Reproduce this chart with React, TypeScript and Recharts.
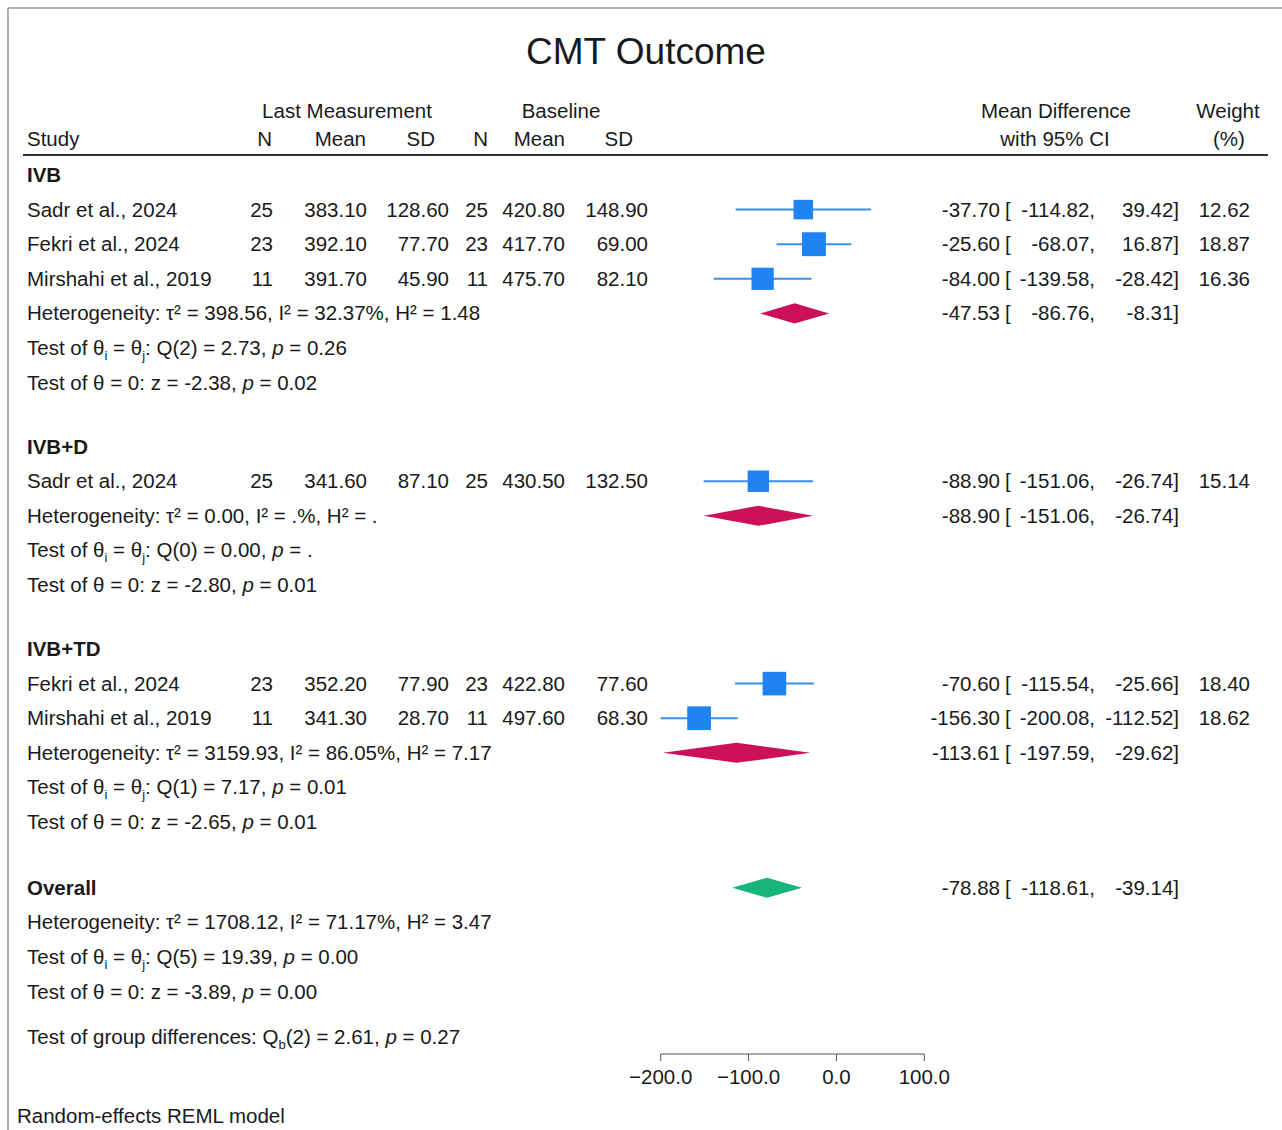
import { ScatterChart, Scatter, XAxis, YAxis, ErrorBar } from 'recharts'

// study rows
const studyNames = ['Sadr et al., 2024', 'Fekri et al., 2024', 'Mirshahi et al., 2019', 'Sadr et al., 2024', 'Fekri et al., 2024', 'Mirshahi et al., 2019']
const studyRows = [1, 2, 3, 8.85, 14.7, 15.7]
const lastN = [25, 23, 11, 25, 23, 11]
const lastMean = [383.1, 392.1, 391.7, 341.6, 352.2, 341.3]
const lastSD = [128.6, 77.7, 45.9, 87.1, 77.9, 28.7]
const baseN = [25, 23, 11, 25, 23, 11]
const baseMean = [420.8, 417.7, 475.7, 430.5, 422.8, 497.6]
const baseSD = [148.9, 69.0, 82.1, 132.5, 77.6, 68.3]
const meanDiff = [-37.7, -25.6, -84.0, -88.9, -70.6, -156.3]
const ciLow = [-114.82, -68.07, -139.58, -151.06, -115.54, -200.08]
const ciHigh = [39.42, 16.87, -28.42, -26.74, -25.66, -112.52]
const weights = [12.62, 18.87, 16.36, 15.14, 18.4, 18.62]

// subgroup + overall
const groupNames = ['IVB', 'IVB+D', 'IVB+TD', 'Overall']
const groupRows = [0, 7.85, 13.7, 20.6]
const pooledRows = [4, 9.85, 16.7, 20.6]
const hetRows = [4, 9.85, 16.7, 21.6]
const pooledEst = [-47.53, -88.9, -113.61, -78.88]
const pooledLow = [-86.76, -151.06, -197.59, -118.61]
const pooledHigh = [-8.31, -26.74, -29.62, -39.14]
const tau2 = ['398.56', '0.00', '3159.93', '1708.12']
const iSq = ['32.37%', '.%', '86.05%', '71.17%']
const hSq = ['1.48', '.', '7.17', '3.47']
const qDf = [2, 0, 1, 5]
const qStat = ['2.73', '0.00', '7.17', '19.39']
const qP = ['0.26', '.', '0.01', '0.00']
const zStat = ['-2.38', '-2.80', '-2.65', '-3.89']
const zP = ['0.02', '0.01', '0.01', '0.00']

const xTicks = [-200, -100, 0, 100]

const W = 1282
const H = 1130
const ROW_TOP = 175
const ROW_STEP = 34.6
const AXIS_Y = 1054
const PLOT_LEFT = 660.7
const PLOT_RIGHT = 924.3
const X_AXIS_H = 40
const FONT = '"Liberation Sans", Arial, Helvetica, sans-serif'
const INK = '#1a1a1a'
const FS = 20.5

const rowY = (r: number) => ROW_TOP + r * ROW_STEP

const studyData = meanDiff.map((m, i) => ({
  x: m,
  y: studyRows[i],
  w: weights[i],
  err: [m - ciLow[i], ciHigh[i] - m],
}))

const diamondData = (i: number) => [
  { x: pooledLow[i], y: pooledRows[i] },
  { x: pooledEst[i], y: pooledRows[i] - 0.29 },
  { x: pooledHigh[i], y: pooledRows[i] },
  { x: pooledEst[i], y: pooledRows[i] + 0.29 },
]

const fmtTick = (v: number) => (v < 0 ? '\u2212' + Math.abs(v).toFixed(1) : v.toFixed(1))

const Square = (props: any) => {
  const s = 5.5 * Math.sqrt(props.payload.w)
  return <rect x={props.cx - s / 2} y={props.cy - s / 2} width={s} height={s} fill="#1f83f2" />
}

const diamondLine = (color: string) => (p: any) => (
  <polygon points={p.points.map((pt: any) => `${pt.x},${pt.y}`).join(' ')} fill={color} stroke="none" />
)

function CiText({ r, est, lo, hi, w }: { r: number; est: number; lo: number; hi: number; w?: number }) {
  const b = rowY(r) + 7
  return (
    <g>
      <text x={1000} y={b} textAnchor="end">{est.toFixed(2)}</text>
      <text x={1005} y={b}>[</text>
      <text x={1095} y={b} textAnchor="end">{lo.toFixed(2)},</text>
      <text x={1179} y={b} textAnchor="end">{hi.toFixed(2)}]</text>
      {w !== undefined && <text x={1250} y={b} textAnchor="end">{w.toFixed(2)}</text>}
    </g>
  )
}

export default function App() {
  return (
    <div style={{ position: 'absolute', left: 0, top: 0, width: W, height: H, background: '#fff' }}>
      <ScatterChart
        width={W}
        height={H}
        margin={{ top: ROW_TOP, right: W - PLOT_RIGHT, bottom: H - AXIS_Y - X_AXIS_H, left: PLOT_LEFT }}
      >
        <XAxis
          type="number"
          dataKey="x"
          domain={[-200, 100]}
          allowDataOverflow
          ticks={xTicks}
          tickFormatter={fmtTick}
          height={X_AXIS_H}
          tickSize={7}
          tickMargin={8}
          stroke="#555"
          tick={{ fontSize: FS, fill: INK, fontFamily: FONT }}
        />
        <YAxis type="number" dataKey="y" domain={[0, (AXIS_Y - ROW_TOP) / ROW_STEP]} reversed hide allowDataOverflow />
        <Scatter data={studyData} shape={Square} isAnimationActive={false} legendType="none">
          <ErrorBar dataKey="err" direction="x" width={0} stroke="#3b8fea" strokeWidth={2} isAnimationActive={false} />
        </Scatter>
        {groupNames.map((g, i) => (
          <Scatter
            key={g}
            data={diamondData(i)}
            shape={() => <g />}
            line={diamondLine(i === 3 ? '#17b57c' : '#cd1159')}
            isAnimationActive={false}
            legendType="none"
          />
        ))}
      </ScatterChart>

      <svg
        width={W}
        height={H}
        style={{ position: 'absolute', left: 0, top: 0, pointerEvents: 'none' }}
        fontFamily={FONT}
        fontSize={FS}
        fill={INK}
      >
        <line x1={8} y1={8} x2={W} y2={8} stroke="#999" strokeWidth={1.5} />
        <line x1={8} y1={8} x2={8} y2={H} stroke="#999" strokeWidth={1.5} />

        <text x={646} y={64} textAnchor="middle" fontSize={37}>CMT Outcome</text>

        <text x={347} y={118} textAnchor="middle">Last Measurement</text>
        <text x={561} y={118} textAnchor="middle">Baseline</text>
        <text x={1056} y={118} textAnchor="middle">Mean Difference</text>
        <text x={1228} y={118} textAnchor="middle">Weight</text>
        <text x={27} y={146}>Study</text>
        <text x={272} y={146} textAnchor="end">N</text>
        <text x={366} y={146} textAnchor="end">Mean</text>
        <text x={435} y={146} textAnchor="end">SD</text>
        <text x={488} y={146} textAnchor="end">N</text>
        <text x={565} y={146} textAnchor="end">Mean</text>
        <text x={633} y={146} textAnchor="end">SD</text>
        <text x={1055} y={146} textAnchor="middle">with 95% CI</text>
        <text x={1229} y={146} textAnchor="middle">(%)</text>
        <line x1={23} y1={155} x2={1268} y2={155} stroke="#333" strokeWidth={2} />

        {groupNames.map((g, i) => (
          <text key={g} x={27} y={rowY(groupRows[i]) + 7} fontWeight="bold">{g}</text>
        ))}

        {studyNames.map((s, i) => {
          const b = rowY(studyRows[i]) + 7
          return (
            <g key={i}>
              <text x={27} y={b}>{s}</text>
              <text x={273} y={b} textAnchor="end">{lastN[i]}</text>
              <text x={367} y={b} textAnchor="end">{lastMean[i].toFixed(2)}</text>
              <text x={449} y={b} textAnchor="end">{lastSD[i].toFixed(2)}</text>
              <text x={488} y={b} textAnchor="end">{baseN[i]}</text>
              <text x={565} y={b} textAnchor="end">{baseMean[i].toFixed(2)}</text>
              <text x={648} y={b} textAnchor="end">{baseSD[i].toFixed(2)}</text>
              <CiText r={studyRows[i]} est={meanDiff[i]} lo={ciLow[i]} hi={ciHigh[i]} w={weights[i]} />
            </g>
          )
        })}

        {groupNames.map((g, i) => (
          <CiText key={'p' + g} r={pooledRows[i]} est={pooledEst[i]} lo={pooledLow[i]} hi={pooledHigh[i]} />
        ))}

        {hetRows.map((r, i) => (
          <g key={'h' + i}>
            <text x={27} y={rowY(r) + 7}>
              Heterogeneity: τ² = {tau2[i]}, I² = {iSq[i]}, H² = {hSq[i]}
            </text>
            <text x={27} y={rowY(r + 1) + 7}>
              Test of θ<tspan dy={5} fontSize={13}>i</tspan>
              <tspan dy={-5}> = θ</tspan>
              <tspan dy={5} fontSize={13}>j</tspan>
              <tspan dy={-5}>: Q({qDf[i]}) = {qStat[i]}, </tspan>
              <tspan fontStyle="italic">p</tspan>
              <tspan> = {qP[i]}</tspan>
            </text>
            <text x={27} y={rowY(r + 2) + 7}>
              Test of θ = 0: z = {zStat[i]}, <tspan fontStyle="italic">p</tspan> = {zP[i]}
            </text>
          </g>
        ))}

        <text x={27} y={rowY(24.9) + 7}>
          Test of group differences: Q<tspan dy={5} fontSize={13}>b</tspan>
          <tspan dy={-5}>(2) = 2.61, </tspan>
          <tspan fontStyle="italic">p</tspan>
          <tspan> = 0.27</tspan>
        </text>

        <text x={17} y={1123}>Random-effects REML model</text>
      </svg>
    </div>
  )
}
